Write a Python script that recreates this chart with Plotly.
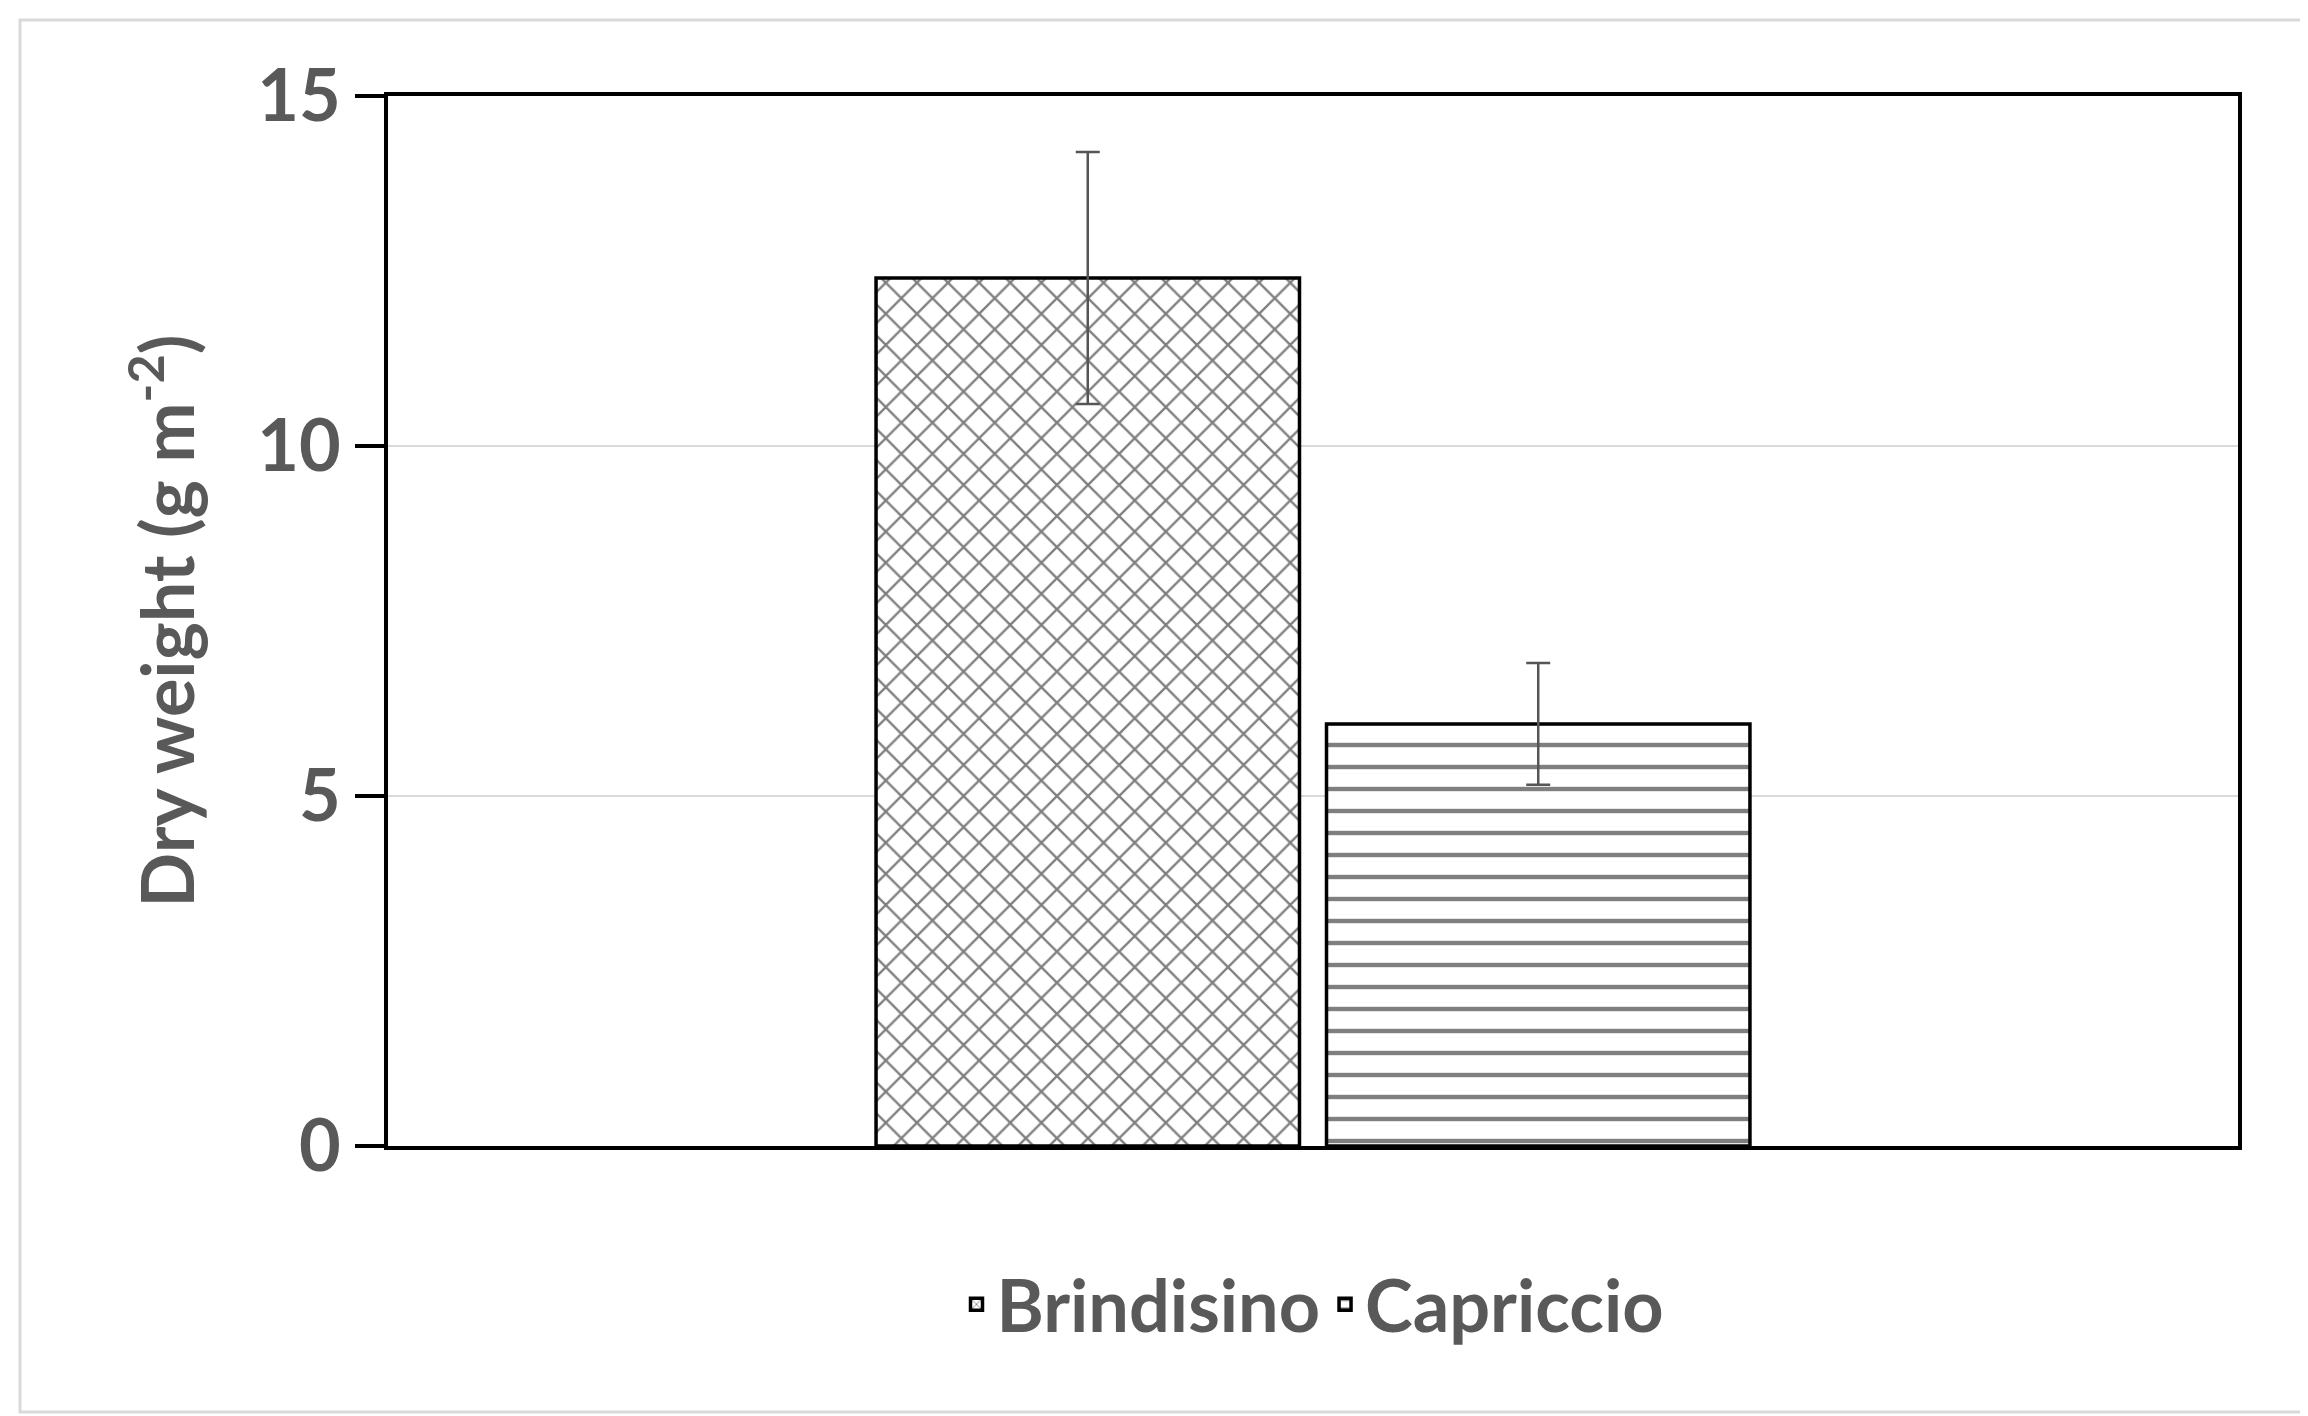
import plotly.graph_objects as go

categories = ["Dry weight"]
series = ["Brindisino", "Capriccio"]
values = [12.4, 6.03]
errors = [1.8, 0.87]
patterns = ["x", "-"]
yticks = [0, 5, 10, 15]

W, H = 2308, 1416
L, R, T, B = 380, 78, 88, 278
pw, ph = W - L - R, H - T - B
fig = go.Figure()
for s, v, e, p in zip(series, values, errors, patterns):
    fig.add_trace(go.Bar(
        x=categories, y=[v], name=s,
        marker=dict(color="white", line=dict(color="black", width=3.5),
                    pattern=dict(shape=p, fgcolor="black", bgcolor="white", size=22, solidity=0.2, fillmode="overlay")),
        error_y=dict(type="data", array=[e], color="#555", thickness=2.5, width=12)))

fig.update_layout(
    width=W, height=H, paper_bgcolor="white", plot_bgcolor="white",
    margin=dict(l=L, r=R, t=T, b=B),
    barmode="group", bargap=0.513, bargroupgap=0.06,
    showlegend=True,
    legend=dict(orientation="h", x=0.5, xanchor="center", y=-0.1, yanchor="top",
                font=dict(family="Lato", size=72, color="#595959", weight="bold")),
    xaxis=dict(showticklabels=False, showline=True, linecolor="black", linewidth=3.5, mirror=True, ticks=""),
    yaxis=dict(range=[0, 15], tickvals=yticks, showline=True, linecolor="black", linewidth=3.5, mirror=True,
               ticks="outside", ticklen=29, tickwidth=3.5, tickcolor="black",
               gridcolor="#d9d9d9", gridwidth=2, zeroline=False,
               tickfont=dict(family="Lato", size=72, color="#595959", weight="bold"),
               title=dict(text="Dry weight (g m<sup>-2</sup>)", standoff=40,
                          font=dict(family="Lato", size=72, color="#595959", weight="bold"))),
    shapes=[dict(type="rect", xref="paper", yref="paper",
                 x0=(12 - L) / pw, x1=(W - 12 - L) / pw,
                 y0=-(H - 12 - T - ph) / ph, y1=1 + (T - 12) / ph,
                 line=dict(color="#d9d9d9", width=3))]
)
fig.write_html("out.html")
